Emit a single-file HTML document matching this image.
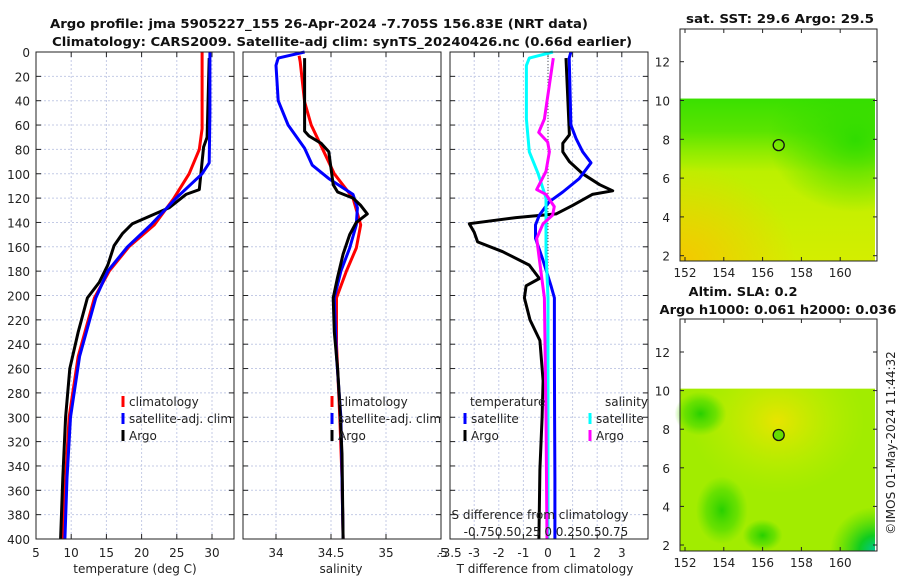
<!DOCTYPE html>
<html><head><meta charset="utf-8"><style>
body{margin:0;background:#fff;}
svg{display:block;font-family:"DejaVu Sans","Liberation Sans",sans-serif;}
</style></head><body>
<svg id="chart" width="900" height="580" viewBox="0 0 900 580" xmlns="http://www.w3.org/2000/svg">
<defs>
<linearGradient id="sstg" x1="0" y1="0" x2="0" y2="1">
<stop offset="0" stop-color="#3ae000"/><stop offset="0.2" stop-color="#5ae400"/><stop offset="0.33" stop-color="#90ec00"/><stop offset="0.45" stop-color="#bcf000"/><stop offset="1" stop-color="#d4ee00"/></linearGradient>
<radialGradient id="sstor" cx="0" cy="1" r="0.6"><stop offset="0" stop-color="#f4c800"/><stop offset="1" stop-color="#f4c800" stop-opacity="0"/></radialGradient>
<radialGradient id="sstgr" cx="0.9" cy="0.25" r="0.45"><stop offset="0" stop-color="#30dc00"/><stop offset="1" stop-color="#30dc00" stop-opacity="0"/></radialGradient>
<radialGradient id="slay" cx="0.5" cy="0.2" r="0.45"><stop offset="0" stop-color="#e8e400"/><stop offset="1" stop-color="#c0f000" stop-opacity="0"/></radialGradient>
<radialGradient id="slag1" cx="0.5" cy="0.5" r="0.5"><stop offset="0" stop-color="#28d000"/><stop offset="0.6" stop-color="#50dc00" stop-opacity="0.7"/><stop offset="1" stop-color="#60e000" stop-opacity="0"/></radialGradient>
<radialGradient id="slag2" cx="1" cy="1" r="0.6"><stop offset="0" stop-color="#00c890"/><stop offset="0.35" stop-color="#10cc20"/><stop offset="1" stop-color="#40d800" stop-opacity="0"/></radialGradient>
</defs>
<g id="g-main"></g>
</svg>
<script>
// ---- data (depth in m) ----
const tClimDepth=[0,30,63,80,100,120,142,160,180,202,250,300,350,400];
const tClimVal=[28.6,28.6,28.6,28.2,26.75,24.6,21.8,18.2,15.4,13.3,11.0,9.7,9.2,8.8];
const tSatDepth=[0,50,91,100,120,142,160,180,202,250,300,350,400];
const tSatVal=[29.7,29.7,29.6,28.6,24.9,21.3,18.0,15.2,13.5,11.2,9.9,9.4,9.1];
const tArgoDepth=[5,70,78,90,113,117,128,135,141,149,159,175,189,202,230,260,300,350,400];
const tArgoVal=[29.6,29.3,28.8,28.6,28.2,26.3,23.9,21.1,18.7,17.3,16.1,15.2,14.0,12.3,11.0,9.8,9.2,8.8,8.5];
const sClimDepth=[3,8,41,60,79,100,120,142,161,180,202,240,300,350,400];
const sClimVal=[34.21,34.22,34.26,34.32,34.42,34.53,34.70,34.77,34.73,34.64,34.55,34.55,34.58,34.60,34.61];
const sSatDepth=[0,5,11,40,60,79,93,104,117,128,142,161,180,202,250,300,350,400];
const sSatVal=[34.26,34.02,34.00,34.02,34.11,34.26,34.33,34.48,34.70,34.74,34.73,34.67,34.59,34.53,34.55,34.59,34.60,34.61];
const sArgoDepth=[5,65,69,75,82,109,115,120,126,133,140,150,166,185,202,230,260,290,330,400];
const sArgoVal=[34.26,34.26,34.30,34.41,34.48,34.52,34.56,34.70,34.77,34.83,34.73,34.67,34.61,34.56,34.52,34.53,34.56,34.58,34.60,34.61];
const dTSatDepth=[0,5,60,71,82,91,104,115,123,134,142,153,170,192,202,250,300,350,400];
const dTSatVal=[0.93,0.86,0.93,1.14,1.41,1.75,1.27,0.6,0.05,-0.35,-0.51,-0.51,-0.22,0.12,0.26,0.26,0.27,0.28,0.28];
const dTArgoDepth=[5,68,75,82,90,100,109,114,117,126,133,136,141,148,156,164,175,186,192,202,220,237,270,300,343,400];
const dTArgoVal=[0.73,0.87,0.6,0.6,0.87,1.41,2.1,2.63,1.8,1.0,0.33,-1.3,-3.2,-3.0,-2.86,-1.84,-0.76,-0.35,-0.89,-0.96,-0.73,-0.33,-0.2,-0.24,-0.33,-0.37];
const dSSatDepth=[0,5,11,55,82,100,120,164,202,300,400];
const dSSatVal=[0.05,-0.19,-0.22,-0.22,-0.19,-0.10,-0.02,-0.02,0.0,0.0,0.0];
const dSArgoDepth=[5,27,55,66,74,82,98,113,117,127,134,141,153,170,202,300,400];
const dSArgoVal=[0.054,0.014,-0.037,-0.095,-0.003,0.014,-0.02,-0.115,-0.02,0.064,0.047,-0.05,-0.115,-0.088,-0.037,-0.02,-0.01];
const depthTicks=[0,20,40,60,80,100,120,140,160,180,200,220,240,260,280,300,320,340,360,380,400];
const tTicks=[5,10,15,20,25,30];
const sTicks=[34,34.5,35];
const sTickLabels=["34","34.5","35"];
const dTTicks=[-3,-2,-1,0,1,2,3];
const mapLatTicks=[2,4,6,8,10,12];
const mapLonTicks=[152,154,156,158,160];

// ---- axes ----
const Y0=52,Y1=539;
function yD(d){return Y0+d*(Y1-Y0)/400;}
function xT(t){return 36+(t-5)*7.04;}
function xS(s){return 276+(s-34)*110;}
function xDT(v){return 548+v*24.6;}
function xDS(v){return 548+v*98.4;}
const panels=[{x0:36,x1:234},{x0:243,x1:441},{x0:450,x1:648}];
const NS='http://www.w3.org/2000/svg';
const G=document.getElementById('g-main');
function mk(tag,attrs,parent){const e=document.createElementNS(NS,tag);for(const k in attrs)e.setAttribute(k,attrs[k]);(parent||G).appendChild(e);return e;}
function txt(s,x,y,anchor,size,weight,parent){const e=mk('text',{x:x,y:y,'text-anchor':anchor||'middle','font-size':size||12,'font-weight':weight||'normal',fill:'#222'},parent);e.textContent=s;return e;}
function title(s,x,y,w){const e=txt(s,x,y,'middle',12,'bold');e.setAttribute('fill','#111');e.setAttribute('textLength',w);e.setAttribute('lengthAdjust','spacingAndGlyphs');return e;}

// grids and frames
panels.forEach((p,i)=>{
 const g=mk('g',{});
 
 
 depthTicks.forEach(d=>{
  const y=yD(d);
  if(d>0&&d<400){const l=mk('line',{x1:p.x0,x2:p.x1,y1:y,y2:y,stroke:'#c4cbe6','stroke-width':1,'stroke-dasharray':'2,2'},g);
   
   }
  mk('line',{x1:p.x0,x2:p.x0+5,y1:y,y2:y,stroke:'#222'},g);
  mk('line',{x1:p.x1-5,x2:p.x1,y1:y,y2:y,stroke:'#222'},g);
 });
 let xs=[];
 if(i===0) xs=tTicks.map(xT);
 if(i===1) xs=sTicks.map(xS);
 if(i===2) xs=dTTicks.map(xDT);
 xs.forEach(x=>{ if(x>p.x0+1&&x<p.x1-1){const l=mk('line',{x1:x,x2:x,y1:Y0,y2:Y1,stroke:'#c4cbe6','stroke-width':1,'stroke-dasharray':'2,2'},g);
   
   }
  mk('line',{x1:x,x2:x,y1:Y1,y2:Y1-5,stroke:'#222'},g);
  mk('line',{x1:x,x2:x,y1:Y0,y2:Y0+5,stroke:'#222'},g);
 });
});
const zl=mk('line',{x1:xDT(0),x2:xDT(0),y1:Y0,y2:Y1,stroke:'#555','stroke-width':1,'stroke-dasharray':'1,2'});



function series(dep,val,fx,color,name){
 const pts=dep.map((d,i)=>fx(val[i]).toFixed(1)+','+yD(d).toFixed(1)).join(' ');
 const e=mk('polyline',{points:pts,fill:'none',stroke:color,'stroke-width':3,'stroke-linejoin':'round'});
 
 
}
series(tClimDepth,tClimVal,xT,'#ff0000','temp-climatology-line');
series(tArgoDepth,tArgoVal,xT,'#000000','temp-argo-line');
series(tSatDepth,tSatVal,xT,'#0000ff','temp-satellite-line');
series(sClimDepth,sClimVal,xS,'#ff0000','sal-climatology-line');
series(sSatDepth,sSatVal,xS,'#0000ff','sal-satellite-line');
series(sArgoDepth,sArgoVal,xS,'#000000','sal-argo-line');
series(dTArgoDepth,dTArgoVal,xDT,'#000000','tdiff-argo-line');
series(dTSatDepth,dTSatVal,xDT,'#0000ff','tdiff-satellite-line');
series(dSSatDepth,dSSatVal,xDS,'#00ffff','sdiff-satellite-line');
series(dSArgoDepth,dSArgoVal,xDS,'#ff00ff','sdiff-argo-line');

panels.forEach(p=>{const r=mk('rect',{x:p.x0,y:Y0,width:p.x1-p.x0,height:Y1-Y0,fill:'none',stroke:'#222','stroke-width':1});
 
 });

// tick labels
depthTicks.forEach(d=>{const t=txt(String(d),30,yD(d)+5,'end');
 
 });
tTicks.forEach(v=>{const t=txt(String(v),xT(v),557,'middle');
 
 });
sTicks.forEach((v,i)=>{const t=txt(sTickLabels[i],xS(v),557,'middle');
 
 });
txt('.5',442,557,'middle');
txt('-3.5',450,557,'middle');
dTTicks.forEach(v=>{if(v===-3)return;const t=txt(String(v),xDT(v),557,'middle');
 
 });
txt('-3',xDT(-3),557,'middle');
txt('temperature (deg C)',135,573,'middle');
txt('salinity',341,573,'middle');
txt('T difference from climatology',545,573,'middle');
txt('S difference from climatology',540,519,'middle');
txt('-0.750.50.25 0 0.250.50.75',546,536,'middle');

// titles
title('Argo profile: jma 5905227_155 26-Apr-2024 -7.705S 156.83E (NRT data)',319,28,538);
title('Climatology: CARS2009. Satellite-adj clim: synTS_20240426.nc (0.66d earlier)',342,46,580);

// legends
function leg(x,y,color,label){mk('rect',{x:x-1.5,y:y-10,width:3,height:11,fill:color});const t=txt(label,x+6,y,'start');}
leg(123,406,'#ff0000','climatology');leg(123,423,'#0000ff','satellite-adj. clim');leg(123,440,'#000000','Argo');
leg(332,406,'#ff0000','climatology');leg(332,423,'#0000ff','satellite-adj. clim');leg(332,440,'#000000','Argo');
txt('temperature',470,406,'start');txt('salinity',605,406,'start');
leg(465,423,'#0000ff','satellite');leg(465,440,'#000000','Argo');
leg(590,423,'#00ffff','satellite');leg(590,440,'#ff00ff','Argo');

// ---- maps ----
function lonX(l){return 685+(l-152)*19.4;}
function drawMap(top,bottom,lat12y,lat2y,kind){
 const g=mk('g',{});
 
 
 const latY=l=>lat2y+(l-2)*(lat12y-lat2y)/10;
 const dy=latY(10.1);
 if(kind==='sst'){
  mk('rect',{x:680,y:dy,width:195,height:bottom-dy,fill:'url(#sstg)'},g);
  mk('rect',{x:680,y:dy,width:195,height:bottom-dy,fill:'url(#sstgr)'},g);
  mk('rect',{x:680,y:dy,width:195,height:bottom-dy,fill:'url(#sstor)'},g);
 } else {
  mk('rect',{x:680,y:dy,width:195,height:bottom-dy,fill:'#a2ec00'},g);
  mk('rect',{x:680,y:dy,width:195,height:bottom-dy,fill:'url(#slay)'},g);
  mk('ellipse',{cx:lonX(153.9),cy:latY(3.8),rx:26,ry:34,fill:'url(#slag1)'},g);
  mk('ellipse',{cx:lonX(152.8),cy:latY(8.8),rx:26,ry:22,fill:'url(#slag1)'},g);
  mk('rect',{x:800,y:latY(5.5),width:75,height:bottom-latY(5.5),fill:'url(#slag2)'},g);
  mk('ellipse',{cx:lonX(156),cy:latY(2.5),rx:20,ry:16,fill:'url(#slag1)'},g);
 }
 mk('rect',{x:680,y:top,width:197,height:bottom-top,fill:'none',stroke:'#222'},g);
 mapLatTicks.forEach(l=>{const y=latY(l);mk('line',{x1:680,x2:684,y1:y,y2:y,stroke:'#222'},g);mk('line',{x1:873,x2:877,y1:y,y2:y,stroke:'#222'},g);
  const t=txt(String(l),670,y+5,'end',12,'normal',g);});
 mapLonTicks.forEach(l=>{const x=lonX(l);mk('line',{x1:x,x2:x,y1:bottom,y2:bottom-4,stroke:'#222'},g);mk('line',{x1:x,x2:x,y1:top,y2:top+4,stroke:'#222'},g);
  const t=txt(String(l),x,bottom+16,'middle',12,'normal',g);});
 const c=mk('circle',{cx:lonX(156.83),cy:latY(7.7),r:5.5,fill:kind==='sst'?'none':'#66dd00',stroke:'#111','stroke-width':1.3},g);
 
 
}
drawMap(29,261,61.7,255.7,'sst');
drawMap(319,551,352,545,'sla');
title('sat. SST: 29.6 Argo: 29.5',780,23,188);
title('Altim. SLA: 0.2',743,296,109);
title('Argo h1000: 0.061 h2000: 0.036',778,314,237);
const cr=txt('©IMOS 01-May-2024 11:44:32',0,0,'middle');
cr.setAttribute('transform','translate(895,443) rotate(-90)');


</script>
</body></html>
